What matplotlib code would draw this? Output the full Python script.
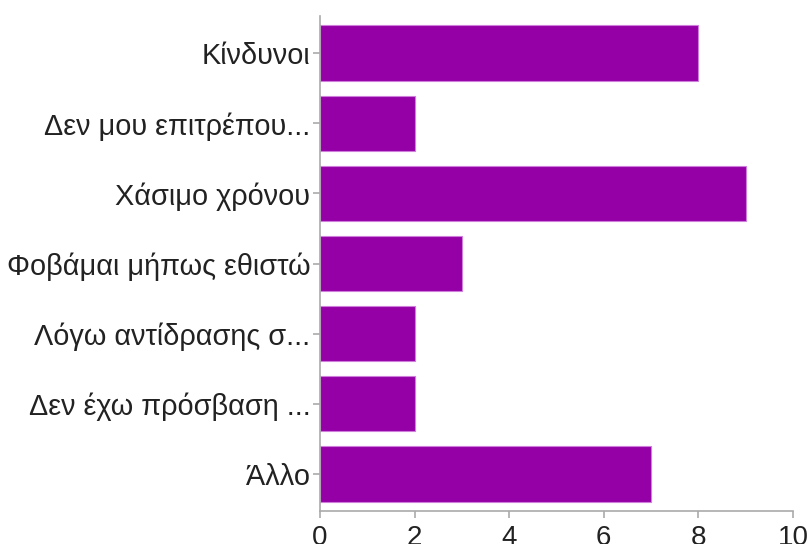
import matplotlib
matplotlib.use("Agg")
import matplotlib.pyplot as plt

labels = ["Κίνδυνοι", "Δεν μου επιτρέπου...", "Χάσιμο χρόνου",
          "Φοβάμαι μήπως εθιστώ", "Λόγω αντίδρασης σ...",
          "Δεν έχω πρόσβαση ...", "Άλλο"]
counts = [8, 2, 9, 3, 2, 2, 7]
xticks = [0, 2, 4, 6, 8, 10]

plt.rcParams["font.family"] = ["Liberation Sans", "DejaVu Sans"]

fig = plt.figure(figsize=(8.11, 5.44), dpi=100)
ax = fig.add_axes([320 / 811, 1 - 511 / 544, (793 - 320) / 811, (511 - 16) / 544])

ypos = list(range(len(labels)))
ax.barh(ypos, counts, height=0.79, color="#9400a6",
        edgecolor="#cf7fdb", linewidth=0.8)

ax.set_yticks(ypos)
ax.set_yticklabels(labels, fontsize=20.8, color="#222222")
ax.set_ylim(len(labels) - 0.47, -0.53)
ax.set_xlim(0, 10)
ax.set_xticks(xticks)
ax.set_xticklabels([str(t) for t in xticks], fontsize=20, color="#222222")

for side in ["top", "right"]:
    ax.spines[side].set_visible(False)
for side in ["left", "bottom"]:
    ax.spines[side].set_color("#aaaaaa")
    ax.spines[side].set_linewidth(1.2)
ax.tick_params(axis="both", colors="#aaaaaa", labelcolor="#222222",
               length=5, width=1.2, pad=2)
ax.tick_params(axis="x", pad=5)

fig.savefig("out.png", dpi=100)
